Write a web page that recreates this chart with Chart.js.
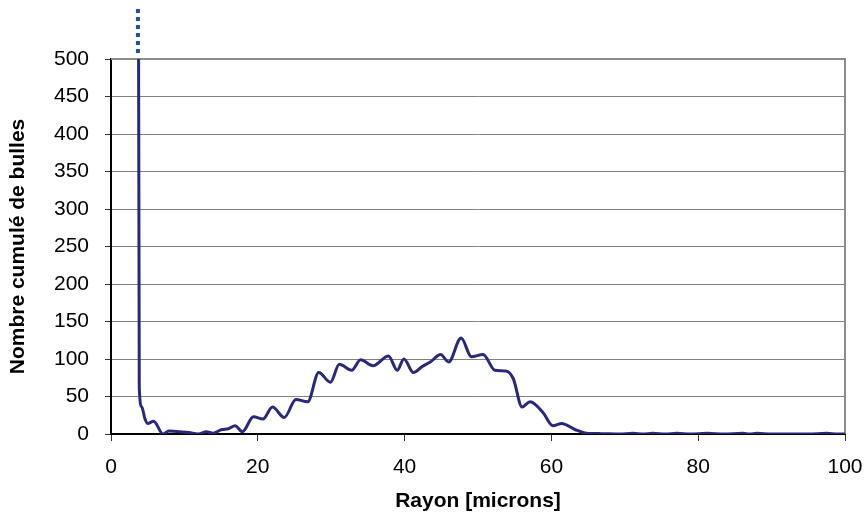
<!DOCTYPE html>
<html>
<head>
<meta charset="utf-8">
<script src="https://cdn.jsdelivr.net/npm/chart.js@4.4.1/dist/chart.umd.min.js"></script>
<style>
  html, body { margin: 0; padding: 0; background: #fff; }
  #wrap { width: 867px; height: 516px; }
</style>
</head>
<body>
<div id="wrap"><canvas id="chart" width="867" height="516"></canvas></div>
<script>
// rayon des bulles (microns) et nombre cumulé
const rayon = [3.6, 3.85, 4.2, 4.6, 5.0, 5.8, 7.1, 7.9, 9.4, 10.6, 11.9, 13.0, 13.9, 15.1, 16.0, 16.9, 17.9,
    19.4, 20.7, 22.0, 23.6, 25.2, 26.8, 28.3, 29.9, 31.1, 32.8, 34.0, 35.7, 37.8, 39.0, 39.9,
    41.2, 42.4, 43.5, 44.9, 46.0, 47.7, 49.1, 50.7, 52.3, 53.8, 54.8, 56.0, 57.1, 58.9, 60.2,
    61.4, 63.2, 64.8, 66.8, 69.3, 71.1, 72.5, 73.8, 75.5, 77.1, 79.0, 81.2, 83.5, 86.1, 87.0,
    88.0, 90.0, 92.5, 95.0, 97.5, 99.0, 100];
const nombre = [1400, 62, 36, 21, 14, 17, 0, 4, 3, 2, 0, 3, 1, 6, 7, 11, 3,
    23, 20, 36, 22, 46, 43, 82, 69, 93, 85, 99, 91, 104, 85, 100,
    82, 90, 96, 106, 96, 128, 103, 106, 85, 84, 74, 36, 43, 28, 11,
    14, 6, 1, 0.5, 0, 1, 0, 1, 0, 1, 0, 1, 0, 1, 0,
    1, 0, 0, 0, 1, 0, 0];
const xTicks = [0, 20, 40, 60, 80, 100];
const yTicks = [0, 50, 100, 150, 200, 250, 300, 350, 400, 450, 500];

const FONT = "'Liberation Sans', Arial, sans-serif";

// cadre gris du haut et de droite de la zone de tracé
const cadre = {
    id: "cadre",
    beforeDatasetsDraw(chart) {
        const { ctx, chartArea: a } = chart;
        ctx.save();
        ctx.strokeStyle = "#8c8c8c";
        ctx.lineWidth = 2;
        ctx.beginPath();
        ctx.moveTo(a.left, a.top);
        ctx.lineTo(a.right, a.top);
        ctx.lineTo(a.right, a.bottom);
        ctx.stroke();
        ctx.restore();
    }
};

// pointillés au-dessus du cadre quand la valeur dépasse le max de l'axe
const depassement = {
    id: "depassement",
    afterDatasetsDraw(chart) {
        const { ctx, chartArea: a, scales } = chart;
        const pts = chart.data.datasets[0].data;
        ctx.save();
        ctx.strokeStyle = "#245090";
        ctx.lineWidth = 4;
        ctx.setLineDash([4, 4]);
        pts.forEach(p => {
            if (p.y > scales.y.max) {
                const px = scales.x.getPixelForValue(p.x) + 0.5;
                ctx.beginPath();
                ctx.moveTo(px, a.top - 6);
                ctx.lineTo(px, a.top - 52);
                ctx.stroke();
            }
        });
        ctx.restore();
    }
};

new Chart(document.getElementById("chart"), {
    type: "line",
    data: {
        datasets: [{
            data: rayon.map((r, i) => ({ x: r, y: nombre[i] })),
            borderColor: "#28297a",
            borderWidth: 3,
            pointRadius: 0,
            fill: false,
            cubicInterpolationMode: "monotone"
        }]
    },
    options: {
        responsive: false,
        animation: false,
        devicePixelRatio: 1,
        layout: { padding: { top: 59, right: 22, left: 0, bottom: 0 } },
        plugins: { legend: { display: false }, tooltip: { enabled: false } },
        scales: {
            x: {
                type: "linear",
                min: 0,
                max: 100,
                afterBuildTicks: s => { s.ticks = xTicks.map(v => ({ value: v })); },
                afterFit: s => { s.height = 82; s.paddingRight = 0; },
                grid: { drawOnChartArea: false, drawTicks: true, tickLength: 7, color: "#333" },
                border: { color: "#000", width: 2 },
                ticks: { color: "#000", padding: 14, font: { family: FONT, size: 21 } },
                title: {
                    display: true,
                    text: "Rayon [microns]",
                    color: "#000",
                    padding: { top: 0, bottom: 2 },
                    font: { family: FONT, size: 21, weight: "bold" }
                }
            },
            y: {
                min: 0,
                max: 500,
                afterBuildTicks: s => { s.ticks = yTicks.map(v => ({ value: v })); },
                afterFit: s => { s.width = 111; },
                grid: { color: "#808080", tickColor: "#333", tickLength: 6, lineWidth: 1 },
                border: { color: "#000", width: 2 },
                ticks: { color: "#000", padding: 16, font: { family: FONT, size: 21 } },
                title: {
                    display: true,
                    text: "Nombre cumulé de bulles",
                    color: "#000",
                    padding: { top: 6, bottom: 0 },
                    font: { family: FONT, size: 21, weight: "bold" }
                }
            }
        }
    },
    plugins: [cadre, depassement]
});
</script>
</body>
</html>
